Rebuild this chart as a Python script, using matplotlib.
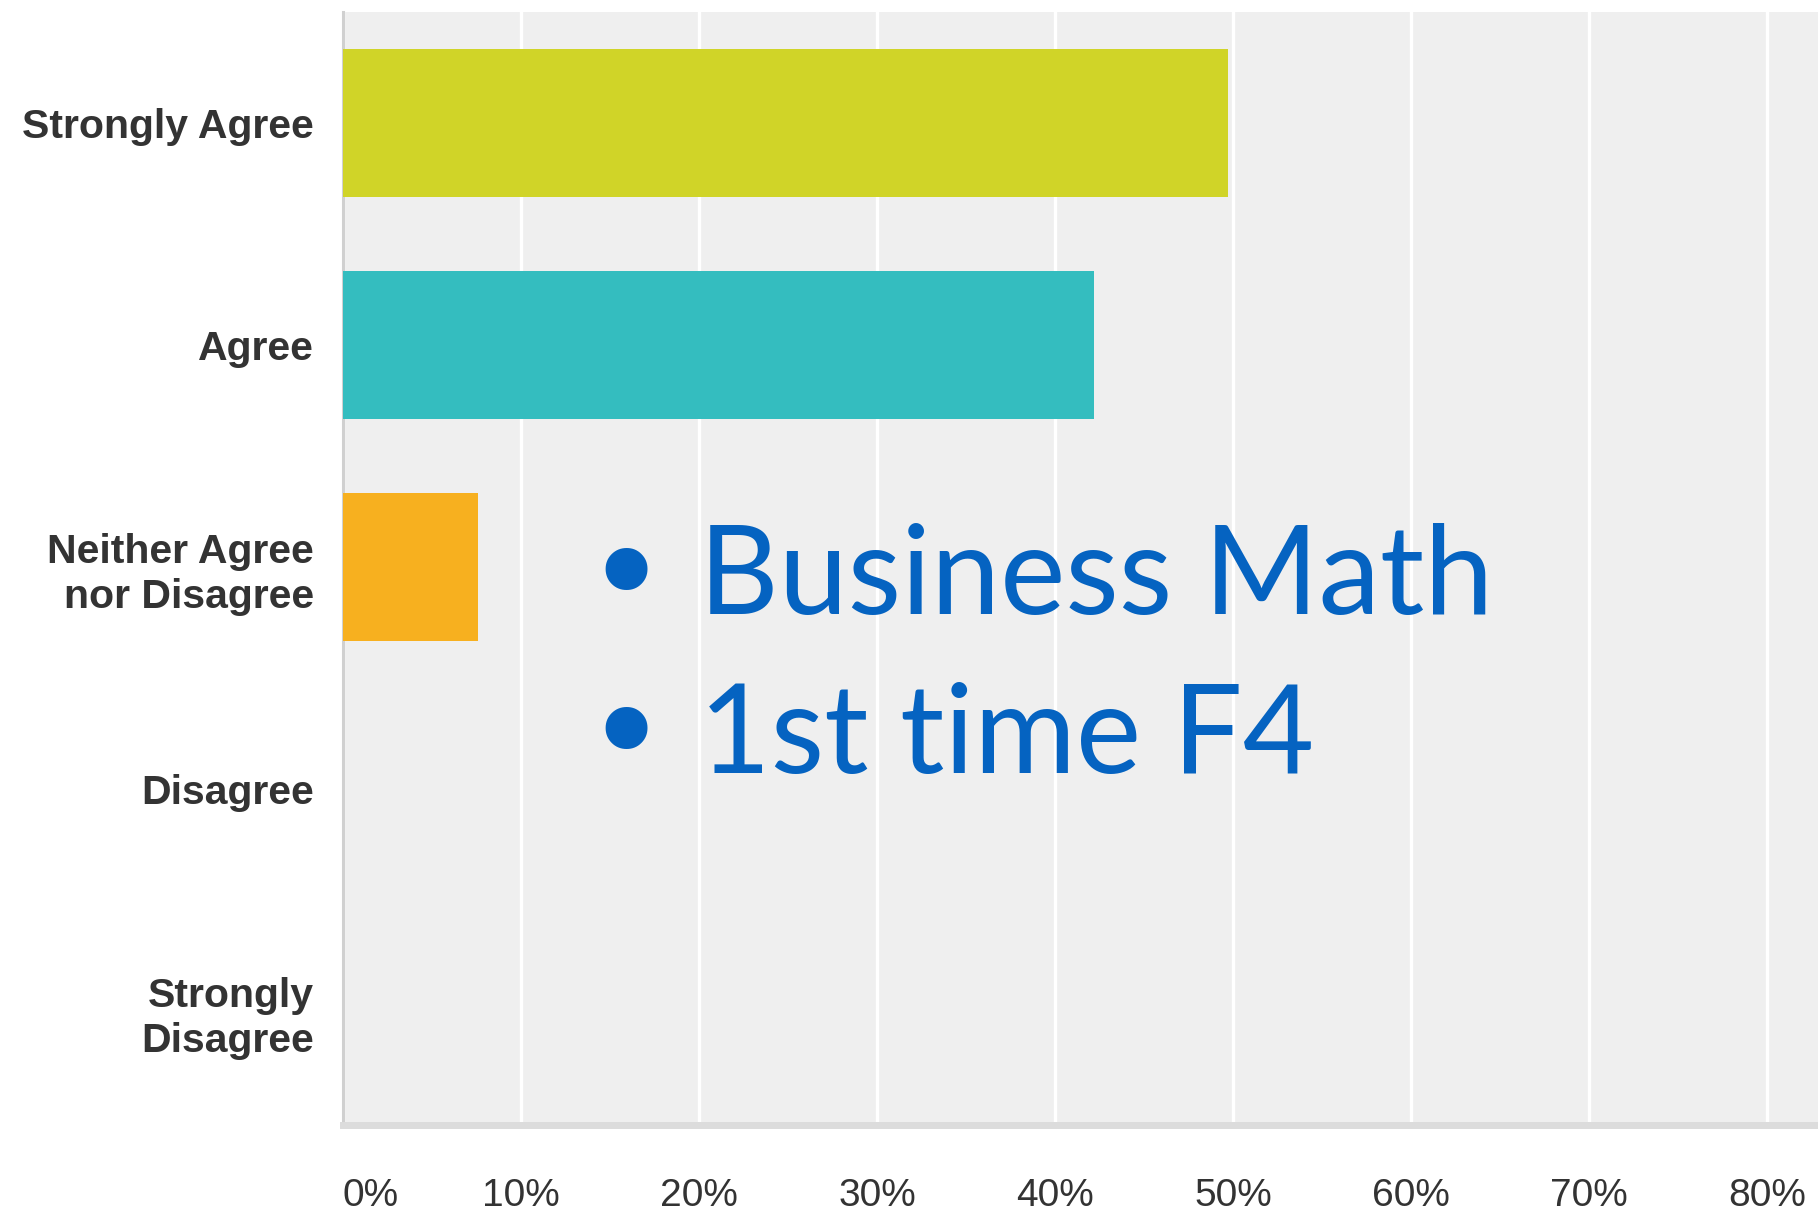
import matplotlib
matplotlib.use("Agg")
import matplotlib.pyplot as plt
import matplotlib.transforms as mtransforms

categories = ["Strongly Agree", "Agree", "Neither Agree\nnor Disagree", "Disagree", "Strongly\nDisagree"]
values = [49.7, 42.2, 7.6, 0.0, 0.0]
bar_colors = ["#D0D428", "#34BDBF", "#F7B01F", "#D0D428", "#D0D428"]
tick_values = [0, 10, 20, 30, 40, 50, 60, 70, 80]
tick_labels = ["0%", "10%", "20%", "30%", "40%", "50%", "60%", "70%", "80%"]
overlay_lines = ["Business Math", "1st time F4"]

plt.rcParams["font.family"] = ["Liberation Sans", "DejaVu Sans"]

W, H = 1818, 1213
fig = plt.figure(figsize=(W / 100, H / 100), dpi=100)
fig.patch.set_facecolor("white")

left_px, right_px, top_px, bottom_px = 343, 1818, 12, 1122
ax = fig.add_axes([left_px / W, 1 - bottom_px / H, (right_px - left_px) / W, (bottom_px - top_px) / H])
ax.set_facecolor("#EFEFEF")

ypos = list(range(len(categories)))
ax.barh(ypos, values, height=0.67, color=bar_colors, zorder=3)

ax.set_ylim(len(categories) - 0.5, -0.5)
ax.set_xlim(0, (right_px - left_px) / 17.8)

ax.tick_params(axis="x", length=0, labelbottom=False)
ax.tick_params(axis="y", length=0, pad=21, labelsize=29.5, labelcolor="#333333")
ax.set_xticks(tick_values)
ax.set_yticks(ypos)
ax.set_yticklabels(categories, fontweight="bold", linespacing=1.22)

# x tick labels drawn as text below the axis
trans = mtransforms.blended_transform_factory(ax.transData, ax.transAxes)
base_y = (bottom_px - 1206) / (bottom_px - top_px)
for v, lab in zip(tick_values, tick_labels):
    ax.text(v, base_y, lab, transform=trans, fontsize=28, color="#333333",
            ha="left" if v == tick_values[0] else "center", va="baseline", clip_on=False)

ax.grid(axis="x", color="white", linewidth=2.4, zorder=1)
ax.grid(axis="y", visible=False)
ax.set_axisbelow(True)

for s in ["top", "right"]:
    ax.spines[s].set_visible(False)
ax.spines["left"].set_color("#D0D0D0")
ax.spines["left"].set_linewidth(2.2)
ax.spines["bottom"].set_color("#DCDCDC")
ax.spines["bottom"].set_linewidth(5.0)
ax.spines["bottom"].set_position(("outward", 2.5))

blue = "#0563C1"
line_y = [614, 773]
for txt, by in zip(overlay_lines, line_y):
    fig.text(626 / W, 1 - (by - 46 + 15) / H, "\u2022", fontsize=104, color=blue,
             family="DejaVu Sans", ha="center", va="center")
    fig.text(699 / W, 1 - by / H, txt, fontsize=89, color=blue,
             family="Lato", ha="left", va="baseline")

fig.savefig("out.png", dpi=100, facecolor="white")
